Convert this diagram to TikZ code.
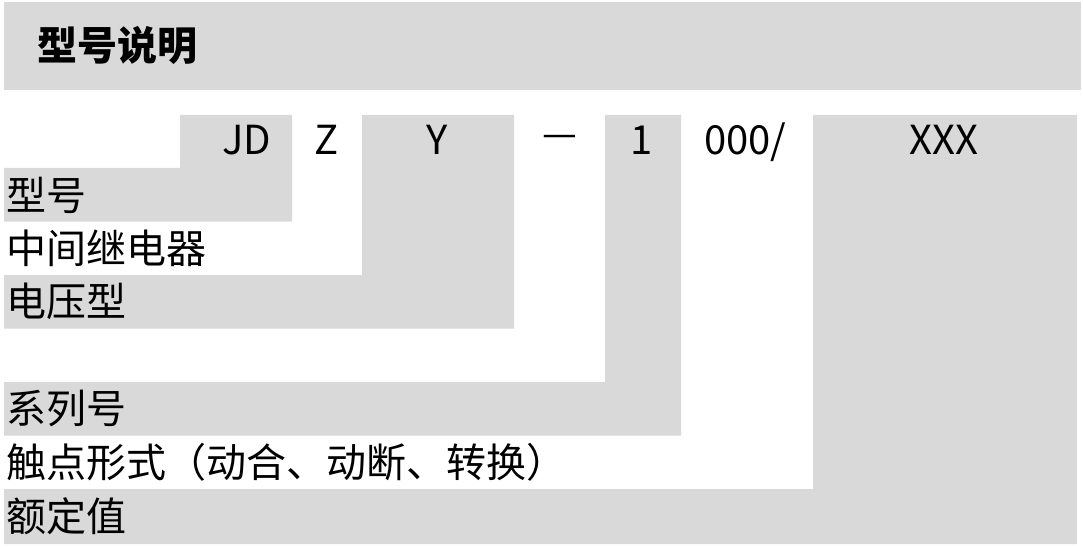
\documentclass[tikz,border=0pt]{standalone}
\usepackage{fontspec}
\setmainfont{Noto Sans CJK SC}
\definecolor{cellgray}{HTML}{D9D9D9}
\tikzset{
  graycell/.style={fill=cellgray, draw=none},
  lbl/.style={anchor=base west, inner sep=0pt, font=\fontsize{40}{48}\selectfont},
  code/.style={anchor=base, inner sep=0pt, font=\fontsize{40}{48}\selectfont},
  ttl/.style={anchor=base west, inner sep=0pt, font=\fontsize{40}{48}\selectfont\bfseries}
}
\begin{document}
\begin{tikzpicture}[x=1pt, y=-1pt]
\useasboundingbox (0,0) rectangle (1083,548);
% gray regions
\path[graycell] (4,2) rectangle (1081,89.7);
\path[graycell] (180,115) -- (292,115) -- (292,221.7) -- (4,221.7) -- (4,168) -- (180,168) -- cycle;
\path[graycell] (362,115) -- (514,115) -- (514,328.7) -- (4,328.7) -- (4,275) -- (362,275) -- cycle;
\path[graycell] (605,115) -- (681,115) -- (681,435.7) -- (4,435.7) -- (4,382) -- (605,382) -- cycle;
\path[graycell] (813,115) -- (1077,115) -- (1077,544) -- (4,544) -- (4,489) -- (813,489) -- cycle;
% title
\node[ttl] (title) at (37,61) {型号说明};
% code row
\node[code] (cJD) at (247,155) {JD};
\node[code] (cZ) at (327,155) {Z};
\node[code] (cY) at (437.5,155) {Y};
\node[code, font=\fontsize{39}{46}\selectfont] (cDash) at (559.5,148) {—};
\node[code] (cOne) at (642,155) {1};
\node[code] (cNum) at (745.5,155) {000/};
\node[code] (cX) at (944,155) {XXX};
% labels
\node[lbl] (lModel) at (6,210) {型号};
\node[lbl] (lRelay) at (6,263.3) {中间继电器};
\node[lbl] (lVolt) at (6,316.8) {电压型};
\node[lbl] (lSeries) at (6,423.8) {系列号};
\node[lbl] (lContact) at (6,477.3) {触点形式（动合、动断、转换）};
\node[lbl] (lRated) at (6,531.5) {额定值};
\end{tikzpicture}
\end{document}
